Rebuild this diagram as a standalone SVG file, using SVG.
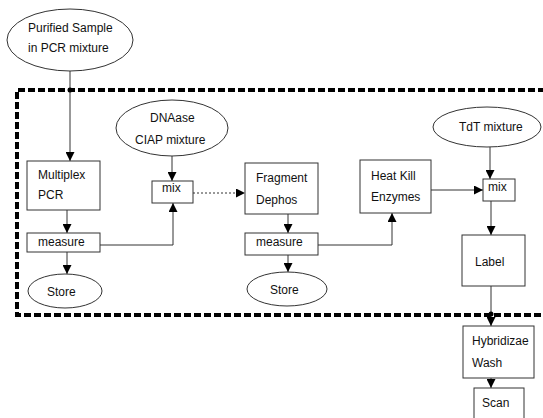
<svg xmlns="http://www.w3.org/2000/svg" width="543" height="418" viewBox="0 0 543 418">
<style>
text{font-family:"Liberation Sans",Arial,sans-serif;font-size:12px;fill:#111}
.n{fill:#fff;stroke:#333;stroke-width:1}
.c{fill:none;stroke:#333;stroke-width:1}
.dot{stroke-dasharray:2 2}
.frame{fill:none;stroke:#000;stroke-width:4;stroke-dasharray:7 3}
</style>
<defs>
<marker id="ah" viewBox="0 0 10 10" refX="10" refY="5" markerWidth="9" markerHeight="9" markerUnits="userSpaceOnUse" orient="auto">
<path d="M0,0 L10,5 L0,10 z" fill="#000"/>
</marker>
</defs>
<rect width="543" height="418" fill="#fff"/>
<path class="frame" d="M545,90 H17 V315 H545"/>
<g id="connectors">
<path class="c" d="M70,71 V161" marker-end="url(#ah)"/>
<circle cx="70" cy="90" r="2.5" fill="#000"/>
<path class="c" d="M67,210 V233" marker-end="url(#ah)"/>
<path class="c" d="M67,252 V274" marker-end="url(#ah)"/>
<path class="c" d="M100,245 H173 V203" marker-end="url(#ah)"/>
<path class="c" d="M172,156 V181" marker-end="url(#ah)"/>
<path class="c dot" d="M193,193 H245" marker-end="url(#ah)"/>
<path class="c" d="M288,214 V233" marker-end="url(#ah)"/>
<path class="c" d="M288,255 V272" marker-end="url(#ah)"/>
<path class="c" d="M318,245 H392 V213" marker-end="url(#ah)"/>
<path class="c" d="M431,190 H483" marker-end="url(#ah)"/>
<path class="c" d="M490,147 V179" marker-end="url(#ah)"/>
<path class="c" d="M491,201 V235" marker-end="url(#ah)"/>
<path class="c" d="M491,286 V326" marker-end="url(#ah)"/>
<circle cx="491" cy="314" r="2.5" fill="#000"/>
<path class="c" d="M491,378 V388" marker-end="url(#ah)"/>
</g>
<g id="purified">
<ellipse class="n" cx="70" cy="40" rx="63" ry="31"/>
<text x="28" y="32">Purified Sample</text>
<text x="28" y="52">in PCR mixture</text>
</g>
<g id="multiplex">
<rect class="n" x="27" y="161" width="73" height="49"/>
<text x="38" y="179">Multiplex</text>
<text x="38" y="199">PCR</text>
</g>
<g id="measure1">
<rect class="n" x="27" y="233" width="73" height="19"/>
<text x="38" y="246">measure</text>
</g>
<g id="store1">
<ellipse class="n" cx="65" cy="291" rx="37" ry="17"/>
<text x="47" y="296">Store</text>
</g>
<g id="dnaase">
<ellipse class="n" cx="172" cy="128" rx="56" ry="28"/>
<text x="150" y="122">DNAase</text>
<text x="135" y="144">CIAP mixture</text>
</g>
<g id="mix1">
<rect class="n" x="152" y="181" width="41" height="22"/>
<text x="162" y="192">mix</text>
</g>
<g id="fragment">
<rect class="n" x="245" y="163" width="73" height="51"/>
<text x="256" y="182">Fragment</text>
<text x="256" y="204">Dephos</text>
</g>
<g id="measure2">
<rect class="n" x="245" y="233" width="73" height="22"/>
<text x="256" y="246">measure</text>
</g>
<g id="store2">
<ellipse class="n" cx="287" cy="289" rx="40" ry="17"/>
<text x="270" y="294">Store</text>
</g>
<g id="heatkill">
<rect class="n" x="360" y="160" width="71" height="53"/>
<text x="371" y="180">Heat Kill</text>
<text x="371" y="201">Enzymes</text>
</g>
<g id="tdt">
<ellipse class="n" cx="487" cy="127" rx="54" ry="20"/>
<text x="459" y="131">TdT mixture</text>
</g>
<g id="mix2">
<rect class="n" x="483" y="179" width="32" height="22"/>
<text x="488" y="191">mix</text>
</g>
<g id="label">
<rect class="n" x="462" y="235" width="63" height="51"/>
<text x="475" y="266">Label</text>
</g>
<g id="hybridize">
<rect class="n" x="463" y="326" width="71" height="52"/>
<text x="472" y="345">Hybridizae</text>
<text x="472" y="367">Wash</text>
</g>
<g id="scan">
<rect class="n" x="474" y="388" width="50" height="40"/>
<text x="482" y="407">Scan</text>
</g>
</svg>
